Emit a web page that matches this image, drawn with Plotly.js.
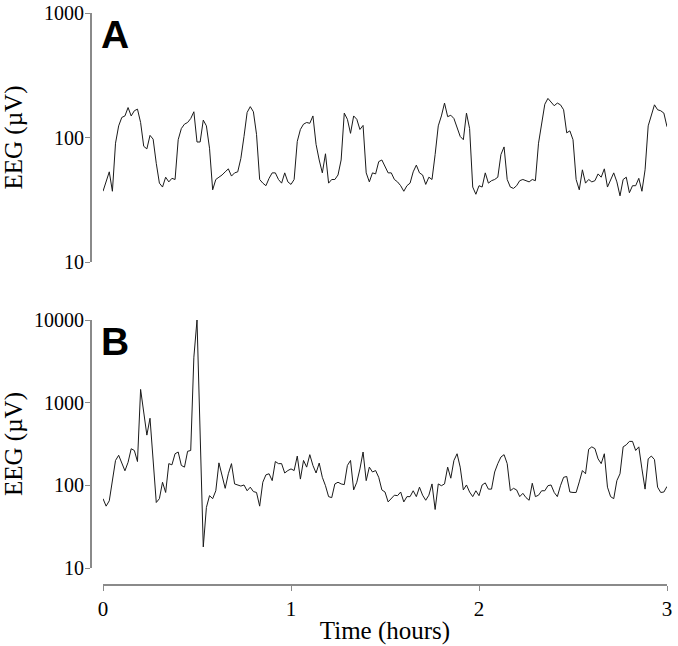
<!DOCTYPE html>
<html>
<head>
<meta charset="utf-8">
<script src="https://cdn.plot.ly/plotly-3.0.1.min.js"></script>
<style>
  html, body { margin: 0; padding: 0; background: #fff; }
  #chart { width: 678px; height: 646px; }
</style>
</head>
<body>
<div id="chart"></div>
<script>
// EEG amplitude (uV), one sample per minute over 3 hours
const EEG_A = [
  37, 45, 53, 37, 90, 124, 145, 149, 174, 149,
  164, 169, 132, 85, 81, 104, 97, 62, 43, 40,
  48, 44, 47, 46, 96, 118, 128, 132, 142, 161,
  92, 92, 138, 124, 82, 38, 46, 48, 50, 53,
  56, 49, 52, 53, 68, 102, 159, 177, 161, 106,
  46, 43, 41, 47, 52, 52, 46, 43, 52, 44,
  42, 46,
  93, 116, 128, 132, 130, 149, 88, 66, 52, 74,
  43, 46, 46, 50, 66, 157, 140, 108, 149, 140,
  116, 125, 52, 44, 52, 51, 64, 66, 59, 52,
  52, 46, 44, 41, 37, 41, 43, 53, 60, 52,
  50, 42, 48, 46, 73, 124, 149, 189, 147, 151,
  142, 122, 102, 96, 157, 118, 40,
  35, 41, 40, 52, 43, 45, 46, 48, 73, 84,
  46, 40, 39, 41, 45, 46, 45, 44, 46, 45,
  90, 132, 185, 206, 194, 180, 189, 183, 167, 109,
  113, 96, 46, 38, 55, 43, 46, 44, 45, 51,
  48, 56, 40, 45, 52, 44, 34, 46, 48, 36,
  41, 41, 47, 37, 55, 124, 154, 183, 167, 164,
  157, 122
];

const EEG_B = [
  69, 56, 65, 115, 200, 231, 190, 150, 190, 277,
  264, 194, 1446, 780, 405, 648, 174, 62, 69, 109,
  82, 183, 177, 241, 253, 174, 166, 258, 264, 3550,
  10000, 427, 18, 54, 75, 69, 86, 187, 131, 92,
  138, 183, 104, 101, 98, 101, 86, 95, 84, 82,
  56, 109, 134, 138, 114, 194, 183, 183, 141, 151,
  158, 151,
  226, 119, 200, 166, 235, 174, 141, 186, 125, 99,
  73, 71, 104, 109, 104, 102, 174, 200, 88, 109,
  158, 253, 114, 166, 145, 151, 125, 88, 83, 63,
  69, 76, 75, 83, 63, 73, 73, 86, 73, 95,
  76, 66, 76, 104, 51, 104, 99, 104, 166, 122,
  200, 241, 166, 88, 101, 83, 73,
  86, 75, 101, 107, 90, 90, 145, 183, 220, 235,
  183, 86, 92, 88, 73, 80, 71, 66, 106, 73,
  76, 86, 86, 99, 101, 82, 73, 99, 125, 128,
  83, 82, 82, 110, 151, 138, 273, 292, 278, 209,
  183, 241, 95, 73, 69, 114, 138, 292, 309, 340,
  340, 264, 292, 158, 90, 209, 226, 205, 95, 82,
  83, 97
];

const SAMPLE_HOURS = 1 / 60;
const TIME_TICKS = [0, 1, 2, 3];
const A_TICKS = [10, 100, 1000];
const B_TICKS = [10, 100, 1000, 10000];
const PANEL_LABELS = ['A', 'B'];

const W = 678, H = 646;
const SERIF = 'Liberation Serif, Times New Roman, serif';
const AXIS_GREY = '#8a8a8a';

const xDom = [103 / W, 667 / W];
const yAxisPos = 90 / W;

function yAxis(ticks, range, domain) {
  return {
    type: 'log',
    range: range,
    domain: domain,
    anchor: 'free',
    position: yAxisPos,
    tickvals: ticks,
    ticktext: ticks.map(String),
    ticks: 'outside',
    ticklen: 5,
    tickwidth: 1,
    tickcolor: AXIS_GREY,
    ticklabelstandoff: -3,
    showline: true,
    linecolor: AXIS_GREY,
    linewidth: 1.5,
    showgrid: false,
    zeroline: false,
    tickfont: { family: SERIF, size: 20, color: '#000' },
    title: { text: 'EEG (\u00b5V)', font: { family: SERIF, size: 25, color: '#000' }, standoff: 14 },
  };
}

const traces = [
  {
    y: EEG_A, x0: 0, dx: SAMPLE_HOURS,
    xaxis: 'x', yaxis: 'y',
    mode: 'lines', type: 'scatter',
    line: { color: '#1a1a1a', width: 1 },
    hoverinfo: 'skip',
  },
  {
    y: EEG_B, x0: 0, dx: SAMPLE_HOURS,
    xaxis: 'x2', yaxis: 'y2',
    mode: 'lines', type: 'scatter',
    line: { color: '#1a1a1a', width: 1 },
    hoverinfo: 'skip',
  },
];

const layout = {
  width: W,
  height: H,
  margin: { l: 0, r: 0, t: 0, b: 0 },
  paper_bgcolor: '#fff',
  plot_bgcolor: '#fff',
  showlegend: false,
  xaxis: {
    domain: xDom, range: [0, 3], anchor: 'y', visible: false,
  },
  yaxis: yAxis(A_TICKS, [1, 3], [(H - 262) / H, (H - 13) / H]),
  xaxis2: {
    domain: xDom,
    range: [0, 3],
    anchor: 'free',
    position: (H - 584) / H,
    tickvals: TIME_TICKS,
    ticks: 'outside',
    ticklen: 5,
    tickwidth: 1,
    tickcolor: AXIS_GREY,
    showline: true,
    linecolor: AXIS_GREY,
    linewidth: 1.5,
    showgrid: false,
    zeroline: false,
    tickfont: { family: SERIF, size: 21, color: '#000' },
    title: { text: 'Time (hours)', font: { family: SERIF, size: 25, color: '#000' }, standoff: 2 },
  },
  yaxis2: yAxis(B_TICKS, [1, 4], [(H - 568) / H, (H - 320) / H]),
  annotations: PANEL_LABELS.map((lab, i) => ({
    text: '<b>' + lab + '</b>',
    xref: 'paper', yref: 'paper',
    x: 115 / W, y: i === 0 ? (H - 35) / H : (H - 341) / H,
    xanchor: 'center', yanchor: 'middle',
    showarrow: false,
    font: { family: 'Liberation Sans, Arial, sans-serif', size: 39, color: '#000' },
  })),
};

Plotly.newPlot('chart', traces, layout, { staticPlot: true, displayModeBar: false });
</script>
</body>
</html>
